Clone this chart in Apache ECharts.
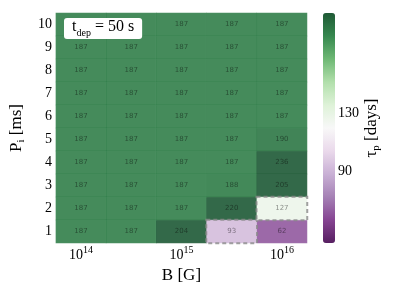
<!DOCTYPE html>
<html>
<head>
<meta charset="utf-8">
<script src="https://cdn.jsdelivr.net/npm/echarts@6/dist/echarts.min.js"></script>
<style>html,body{margin:0;padding:0;background:#fff}#c{width:399px;height:299px}</style>
</head>
<body>
<div id="c"></div>
<script>
// log10(B) categories
const bCategories = ['14', '14.5', '15', '15.5', '16'];
const xTickExp = ['14', '', '15', '', '16'];
const pCategories = ['1', '2', '3', '4', '5', '6', '7', '8', '9', '10'];
// tau_p [days], one array per P_i row (columns follow bCategories)
const row1 = [187, 187, 204, 93, 62];
const row2 = [187, 187, 187, 220, 127];
const row3 = [187, 187, 187, 188, 205];
const row4 = [187, 187, 187, 187, 236];
const row5 = [187, 187, 187, 187, 190];
const row6 = [187, 187, 187, 187, 187];
const row7 = [187, 187, 187, 187, 187];
const row8 = [187, 187, 187, 187, 187];
const row9 = [187, 187, 187, 187, 187];
const row10 = [187, 187, 187, 187, 187];
const rows = [row1, row2, row3, row4, row5, row6, row7, row8, row9, row10];
// highlighted cells [xIndex, yIndex]
const dashedCells = [[3, 0], [4, 1]];
const cbTicks = [90, 130];
const cbMin = 40, cbMax = 200;

const PRGn = ['#40004b','#762a83','#9970ab','#c2a5cf','#e7d4e8','#f7f7f7','#d9f0d3','#a6dba0','#5aae61','#1b7837','#00441b'];
function blend(hex, a) {
  const n = parseInt(hex.slice(1), 16);
  const c = [(n >> 16) & 255, (n >> 8) & 255, n & 255].map(v => Math.round(v * a + 255 * (1 - a)));
  return 'rgb(' + c.join(',') + ')';
}
const PRGnBar = PRGn.map(h => blend(h, 0.88));
const serif = 'Liberation Serif';

const normal = [], special = [];
rows.forEach((r, yi) => r.forEach((v, xi) => {
  const isD = dashedCells.some(c => c[0] === xi && c[1] === yi);
  if (isD) special.push({ value: [xi, yi, v], itemStyle: { borderColor: '#8a8a8a', borderWidth: 2, borderType: [4, 3] } });
  else normal.push({ value: [xi, yi, v] });
}));
const data = normal.concat(special);

const chart = echarts.init(document.getElementById('c'), null, { renderer: 'canvas' });
chart.setOption({
  animation: false,
  title: {
    text: '{m|t}{s|dep}{m| = 50 s}',
    left: 64, top: 18,
    padding: [1, 8, 1, 8],
    backgroundColor: '#fff',
    borderRadius: 3,
    textStyle: {
      fontWeight: 'normal',
      rich: {
        m: { fontFamily: serif, fontSize: 16, fontWeight: 'normal', color: '#000', lineHeight: 19, verticalAlign: 'top' },
        s: { fontFamily: serif, fontSize: 10, fontWeight: 'normal', color: '#000', lineHeight: 19, verticalAlign: 'bottom' }
      }
    }
  },
  grid: [
    { left: 55, right: 92, top: 13, bottom: 56 },
    { left: 323, top: 13, width: 12, height: 230 }
  ],
  xAxis: [
    {
      type: 'category', data: bCategories, gridIndex: 0,
      axisLine: { show: false }, axisTick: { show: false }, splitLine: { show: false },
      axisLabel: {
        interval: 0, margin: 2,
        formatter: (val, idx) => xTickExp[idx] ? '{b|10}{s|' + xTickExp[idx] + '}' : '',
        rich: {
          b: { fontFamily: serif, fontSize: 14, color: '#000', lineHeight: 17, verticalAlign: 'bottom' },
          s: { fontFamily: serif, fontSize: 10, color: '#000', lineHeight: 17, verticalAlign: 'top' }
        }
      },
      name: 'B [G]', nameLocation: 'middle', nameGap: 22,
      nameTextStyle: { fontFamily: serif, fontSize: 17, color: '#000' }
    },
    { type: 'value', gridIndex: 1, show: false, min: 0, max: 1 }
  ],
  yAxis: [
    {
      type: 'category', data: pCategories, gridIndex: 0,
      axisLine: { show: false }, axisTick: { show: false }, splitLine: { show: false },
      axisLabel: { fontFamily: serif, fontSize: 14, color: '#000', margin: 4, interval: 0 },
      name: '{m|P}{s|i}{m| [ms]}', nameLocation: 'middle', nameGap: 24,
      nameTextStyle: {
        rich: {
          m: { fontFamily: serif, fontSize: 17, color: '#000', lineHeight: 19, verticalAlign: 'top' },
          s: { fontFamily: serif, fontSize: 11, color: '#000', lineHeight: 19, verticalAlign: 'bottom' }
        }
      }
    },
    {
      type: 'value', gridIndex: 1, position: 'right', min: cbMin, max: cbMax,
      axisLine: { show: false }, axisTick: { show: false }, splitLine: { show: false },
      axisLabel: { customValues: cbTicks, fontFamily: serif, fontSize: 14, color: '#000', margin: 3 },
      name: '{m|τ}{s|p}{m| [days]}', nameLocation: 'middle', nameGap: 27,
      nameTextStyle: {
        rich: {
          m: { fontFamily: serif, fontSize: 17, color: '#000', lineHeight: 19, verticalAlign: 'top' },
          s: { fontFamily: serif, fontSize: 11, color: '#000', lineHeight: 19, verticalAlign: 'bottom' }
        }
      }
    }
  ],
  visualMap: {
    type: 'continuous', min: cbMin, max: cbMax, seriesIndex: 0,
    orient: 'vertical', left: 323, top: 13, itemWidth: 12, itemHeight: 230,
    padding: 0, calculable: false, hoverLink: false, text: null,
    inRange: { color: PRGn },
    controller: { inRange: { color: PRGnBar } }
  },
  series: [{
    type: 'heatmap', xAxisIndex: 0, yAxisIndex: 0,
    data: data,
    itemStyle: { opacity: 0.8, borderColor: 'rgba(255,255,255,0.12)', borderWidth: 0.6 },
    label: { show: true, formatter: p => p.value[2], fontSize: 7, color: 'rgba(0,0,0,0.55)', fontFamily: 'DejaVu Sans' },
    emphasis: { disabled: true }
  }]
});
</script>
</body>
</html>
